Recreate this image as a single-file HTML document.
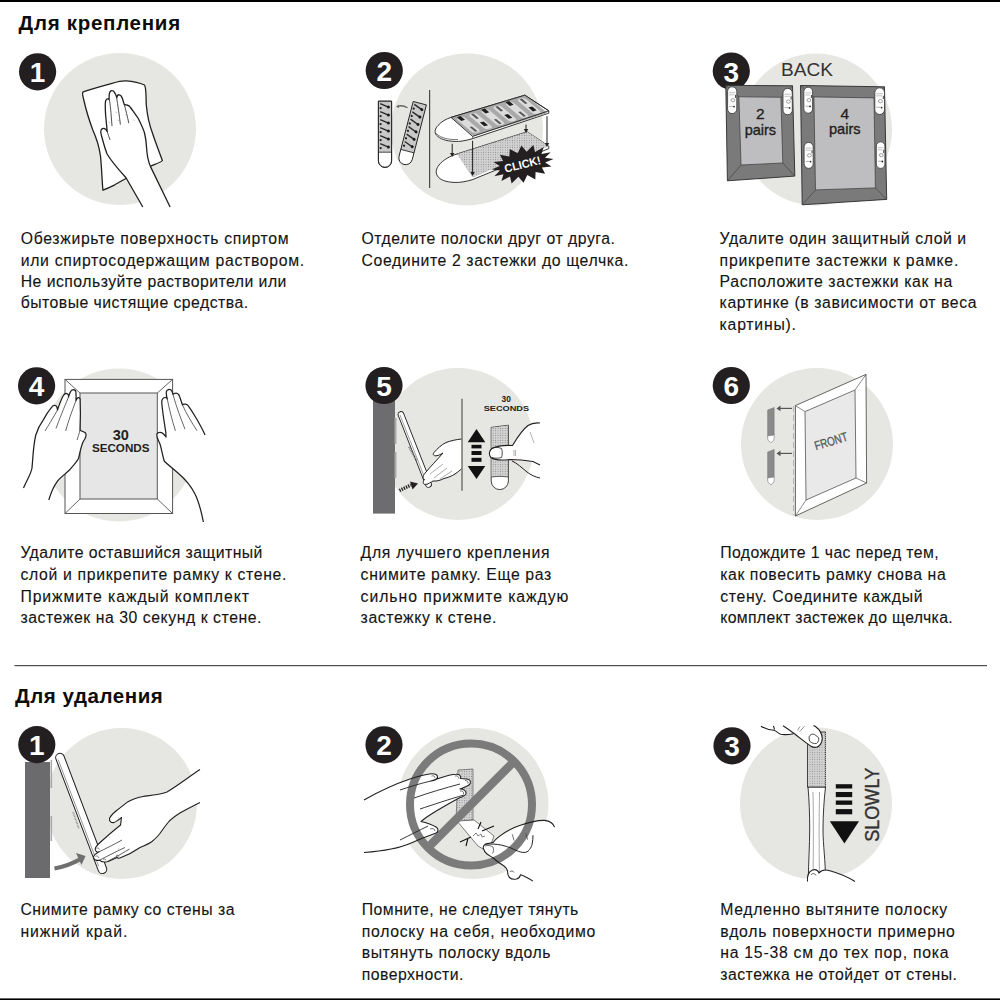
<!DOCTYPE html>
<html><head><meta charset="utf-8"><style>
html,body{margin:0;padding:0;background:#fff;width:1000px;height:1000px;overflow:hidden}
svg{display:block}
.t text{font-family:"Liberation Sans", sans-serif;font-size:15.8px;fill:#141414;stroke:#141414;stroke-width:0.12px}
.h{font-family:"Liberation Sans", sans-serif;font-size:20.5px;font-weight:bold;fill:#0d0d0d}
</style></head><body>
<svg width="1000" height="1000" viewBox="0 0 1000 1000">
<rect x="0" y="0" width="1000" height="1000" fill="#fff"/>
<rect x="0" y="0" width="1000" height="2" fill="#000"/>
<rect x="0" y="998.4" width="1000" height="1.6" fill="#000"/>
<rect x="14.5" y="665" width="972.5" height="1.2" fill="#4d4d4d"/>
<text class="h" x="18.6" y="30.3" textLength="161.5" lengthAdjust="spacing">Для крепления</text>
<text class="h" x="15.0" y="703.3" textLength="147.8" lengthAdjust="spacing">Для удаления</text>
<circle cx="120" cy="129" r="76" fill="#e6e6e3"/>
<circle cx="467" cy="129.5" r="76" fill="#e6e6e3"/>
<circle cx="816" cy="129.5" r="76" fill="#e6e6e3"/>
<circle cx="119" cy="445" r="76.5" fill="#e6e6e3"/>
<circle cx="458" cy="444" r="76" fill="#e6e6e3"/>
<circle cx="817" cy="444" r="76" fill="#e6e6e3"/>
<circle cx="121.5" cy="803.5" r="75.5" fill="#e6e6e3"/>
<circle cx="473" cy="803.5" r="75.5" fill="#e6e6e3"/>
<circle cx="816" cy="803.5" r="76" fill="#e6e6e3"/>
<defs><pattern id="dots" width="2.4" height="2.4" patternUnits="userSpaceOnUse"><rect width="2.4" height="2.4" fill="#d4d4d4"/><circle cx="1.2" cy="1.2" r="0.55" fill="#888"/></pattern></defs>
<path d="M83.2,91.8 C90,89.5 104,85.5 112,83.3 C118,81.6 122,80.6 126,80.9 C131,81.3 140,83 144.5,85 C146.5,88 145.8,97 146.3,105 C147.5,118 150.5,128 152.6,133.5 C155,141 158.5,150 162.4,160.5 C161,162.5 154,164.5 149.8,166.6 L126,178.5 C121,181 118,183 114.8,184.8 C110,187.2 106,189 102.9,190.2 C102,180 101.5,165 100.5,156 C99,146 96,137 92.8,130 C89.5,121 86,110 83.8,100 C83.2,97 81.6,93 83.2,91.8 Z" fill="#fff" stroke="#231f20" stroke-width="1.3" stroke-linejoin="round"/><path d="M142.8,207 L126,177.8 C119,170 111,161 107.1,154 C105,149 103,141 101.5,135.8 C100.5,132.5 100.5,129.5 102.5,128.6 C104.5,127.8 106.3,129.5 107.2,131.5 L105.6,115 C105.2,108 105.1,103 105.6,101 C106.3,98.8 108.2,98.2 109.2,99.5 C109,96 109,93.5 110,91.8 C111,90.3 113.2,90.3 114.3,92.2 C115.5,94 116.3,96 116.8,97.5 C117.2,95.8 118.2,94.6 119.4,94.8 C120.8,95 121.8,96.5 122.4,98.5 C123,100.5 123.6,102.5 124.3,104.5 C124.8,104.8 125.8,104.7 126.8,105 C128.5,105.4 129.8,106.2 130.5,107.5 C133,111 136,115 138,118 C141,124 143.5,129 144.5,133 C145.8,138 146.3,143 146.6,148 C147,155 148,161 150.5,166.6 L170.1,207 Z" fill="#fff" stroke="none"/><path d="M142.8,207 L126,177.8 C119,170 111,161 107.1,154 C105,149 103,141 101.5,135.8 C100.5,132.5 100.5,129.5 102.5,128.6 C104.5,127.8 106.3,129.5 107.2,131.5 L105.6,115 C105.2,108 105.1,103 105.6,101 C106.3,98.8 108.2,98.2 109.2,99.5 C109,96 109,93.5 110,91.8 C111,90.3 113.2,90.3 114.3,92.2 C115.5,94 116.3,96 116.8,97.5 C117.2,95.8 118.2,94.6 119.4,94.8 C120.8,95 121.8,96.5 122.4,98.5 C123,100.5 123.6,102.5 124.3,104.5 C124.8,104.8 125.8,104.7 126.8,105 C128.5,105.4 129.8,106.2 130.5,107.5 C133,111 136,115 138,118 C141,124 143.5,129 144.5,133 C145.8,138 146.3,143 146.6,148 C147,155 148,161 150.5,166.6 L170.1,207" fill="none" stroke="#231f20" stroke-width="1.3" stroke-linejoin="round"/><path d="M109.4,100 C110.2,104 111,112 112,126 M116.6,97.5 C117.8,105 119.3,115 120.4,124.6 M124.3,104.5 C125.8,110 127.5,117 128.8,123.2 M107.2,131.5 C108,134 109,137 110,140" fill="none" stroke="#231f20" stroke-width="0.8"/><path d="M110,116 l1.3,0.6" stroke="#999" stroke-width="0.7"/><path d="M115.5,112 l1.3,0.6" stroke="#999" stroke-width="0.7"/><path d="M125.3,114.8 l1.3,0.6" stroke="#999" stroke-width="0.7"/><path d="M133.2,119.7 l1.3,0.6" stroke="#999" stroke-width="0.7"/><path d="M108.5,122 l1.3,0.6" stroke="#999" stroke-width="0.7"/><path d="M117.5,120 l1.3,0.6" stroke="#999" stroke-width="0.7"/>
<path d="M378.4,101.2 H391.6 V160.8 A6.6,6.6 0 0 1 378.4,160.8 Z" fill="#fff" stroke="#231f20" stroke-width="0.9"/><rect x="378.8" y="101.6" width="12.4" height="50.6" fill="#c9c9c9"/><path d="M378.4,152.2 H391.6" stroke="#231f20" stroke-width="0.8"/><path d="M380.2,103.7 L389.1,107.3" stroke="#2a2a2a" stroke-width="1.4" fill="none"/><circle cx="388.4" cy="106.9" r="1.5" fill="#1a1a1a"/><circle cx="380.6" cy="108.1" r="1.1" fill="#1a1a1a"/><path d="M380.2,111.7 L389.1,115.3" stroke="#2a2a2a" stroke-width="1.4" fill="none"/><circle cx="388.4" cy="114.9" r="1.5" fill="#1a1a1a"/><circle cx="380.6" cy="116.1" r="1.1" fill="#1a1a1a"/><path d="M380.2,119.7 L389.1,123.3" stroke="#2a2a2a" stroke-width="1.4" fill="none"/><circle cx="388.4" cy="122.9" r="1.5" fill="#1a1a1a"/><circle cx="380.6" cy="124.1" r="1.1" fill="#1a1a1a"/><path d="M380.2,127.7 L389.1,131.3" stroke="#2a2a2a" stroke-width="1.4" fill="none"/><circle cx="388.4" cy="130.9" r="1.5" fill="#1a1a1a"/><circle cx="380.6" cy="132.1" r="1.1" fill="#1a1a1a"/><path d="M380.2,135.7 L389.1,139.3" stroke="#2a2a2a" stroke-width="1.4" fill="none"/><circle cx="388.4" cy="138.9" r="1.5" fill="#1a1a1a"/><circle cx="380.6" cy="140.1" r="1.1" fill="#1a1a1a"/><path d="M380.2,143.7 L389.1,147.3" stroke="#2a2a2a" stroke-width="1.4" fill="none"/><circle cx="388.4" cy="146.9" r="1.5" fill="#1a1a1a"/><circle cx="380.6" cy="148.1" r="1.1" fill="#1a1a1a"/><path d="M378.4,101.2 H391.6 V160.8 A6.6,6.6 0 0 1 378.4,160.8 Z" fill="none" stroke="#231f20" stroke-width="0.9"/><g transform="translate(419.8,103.2) rotate(14.5)"><path d="M-6.8,0 H6.8 V56.5 A6.8,6.8 0 0 1 -6.8,56.5 Z" fill="#fff"/><rect x="-6.8" y="0" width="13.6" height="49.5" fill="#c9c9c9"/><path d="M-5.0,2.5 L4.3,6.1" stroke="#2a2a2a" stroke-width="1.4" fill="none"/><circle cx="3.6" cy="5.7" r="1.5" fill="#1a1a1a"/><circle cx="-4.6" cy="6.7" r="1.1" fill="#1a1a1a"/><path d="M-5.0,10.2 L4.3,13.8" stroke="#2a2a2a" stroke-width="1.4" fill="none"/><circle cx="3.6" cy="13.4" r="1.5" fill="#1a1a1a"/><circle cx="-4.6" cy="14.4" r="1.1" fill="#1a1a1a"/><path d="M-5.0,17.8 L4.3,21.4" stroke="#2a2a2a" stroke-width="1.4" fill="none"/><circle cx="3.6" cy="21.0" r="1.5" fill="#1a1a1a"/><circle cx="-4.6" cy="22.1" r="1.1" fill="#1a1a1a"/><path d="M-5.0,25.5 L4.3,29.1" stroke="#2a2a2a" stroke-width="1.4" fill="none"/><circle cx="3.6" cy="28.7" r="1.5" fill="#1a1a1a"/><circle cx="-4.6" cy="29.7" r="1.1" fill="#1a1a1a"/><path d="M-5.0,33.2 L4.3,36.8" stroke="#2a2a2a" stroke-width="1.4" fill="none"/><circle cx="3.6" cy="36.4" r="1.5" fill="#1a1a1a"/><circle cx="-4.6" cy="37.4" r="1.1" fill="#1a1a1a"/><path d="M-5.0,40.8 L4.3,44.4" stroke="#2a2a2a" stroke-width="1.4" fill="none"/><circle cx="3.6" cy="44.0" r="1.5" fill="#1a1a1a"/><circle cx="-4.6" cy="45.1" r="1.1" fill="#1a1a1a"/><path d="M-6.8,49.5 H6.8" stroke="#231f20" stroke-width="0.8"/><path d="M-6.8,0 H6.8 V56.5 A6.8,6.8 0 0 1 -6.8,56.5 Z" fill="none" stroke="#231f20" stroke-width="0.9"/></g><path d="M397.5,106.5 Q402,104.5 407.5,107.8" fill="none" stroke="#666" stroke-width="1.3"/><path d="M396,106.8 l2.8,-2 l0.2,3.2 Z" fill="#666"/><path d="M429.6,90 V188" stroke="#4a4a4a" stroke-width="1.2"/><path d="M457,154 L527.2,131.8 L548.8,146.2 L548.8,148.6 L472,179.8 C466,181.5 460,182.8 454,182.4 C446,182 440,180 437.5,176 C435,172 436.5,168.5 439,165 C443,160 450,156 457,154 Z" fill="#fff" stroke="#231f20" stroke-width="0.9"/><path d="M457,154 L527.2,131.8 L548.8,146.2 L472.5,177.4 Z" fill="url(#dots)"/><path d="M457,154 L527.2,131.8" stroke="#555" stroke-width="0.9" stroke-dasharray="1.2 1.2" fill="none"/><path d="M451,117.4 L524.8,95.2 L548.8,110.8 L548.8,113.2 L472.6,138.6 C466,140.6 460,141.8 454,141.4 C446,141 440,139 436.5,135.2 C434,132 435.2,128.5 438,125.5 C441.5,121.5 446,119 451,117.4 Z" fill="#fff" stroke="#231f20" stroke-width="0.9"/><g transform="matrix(74.5,-23,22.3,18.8,451,117.4)"><rect x="0" y="0" width="1" height="1" fill="#a9a9a9"/><rect x="0.035" y="0.1" width="0.1" height="0.8" rx="0.04" ry="0.12" fill="#dcdcdc"/><rect x="0.060" y="0.06" width="0.05" height="0.2" fill="#1e1e1e"/><rect x="0.070" y="0.6" width="0.03" height="0.25" fill="#555"/><rect x="0.198" y="0.1" width="0.1" height="0.8" rx="0.04" ry="0.12" fill="#dcdcdc"/><rect x="0.223" y="0.55" width="0.05" height="0.2" fill="#1e1e1e"/><rect x="0.233" y="0.12" width="0.03" height="0.25" fill="#555"/><rect x="0.361" y="0.1" width="0.1" height="0.8" rx="0.04" ry="0.12" fill="#dcdcdc"/><rect x="0.386" y="0.06" width="0.05" height="0.2" fill="#1e1e1e"/><rect x="0.396" y="0.6" width="0.03" height="0.25" fill="#555"/><rect x="0.524" y="0.1" width="0.1" height="0.8" rx="0.04" ry="0.12" fill="#dcdcdc"/><rect x="0.549" y="0.55" width="0.05" height="0.2" fill="#1e1e1e"/><rect x="0.559" y="0.12" width="0.03" height="0.25" fill="#555"/><rect x="0.687" y="0.1" width="0.1" height="0.8" rx="0.04" ry="0.12" fill="#dcdcdc"/><rect x="0.712" y="0.06" width="0.05" height="0.2" fill="#1e1e1e"/><rect x="0.722" y="0.6" width="0.03" height="0.25" fill="#555"/><rect x="0.850" y="0.1" width="0.1" height="0.8" rx="0.04" ry="0.12" fill="#dcdcdc"/><rect x="0.875" y="0.55" width="0.05" height="0.2" fill="#1e1e1e"/><rect x="0.885" y="0.12" width="0.03" height="0.25" fill="#555"/></g><path d="M451,117.4 L524.8,95.2 L548.8,110.8 L472.6,136.4 Z" fill="none" stroke="#231f20" stroke-width="0.9"/><path d="M472.6,136.4 L472.6,138.6 M436.3,133.5 C441,138.5 450,140 458,139.5" fill="none" stroke="#231f20" stroke-width="0.6"/><path d="M452.2,143.8 V154" stroke="#231f20" stroke-width="1"/><path d="M450.0,153 L454.4,153 L452.2,157 Z" fill="#231f20"/><path d="M472.6,140.8 V173" stroke="#231f20" stroke-width="1"/><path d="M470.40000000000003,172 L474.8,172 L472.6,176 Z" fill="#231f20"/><path d="M526,124.6 V130" stroke="#231f20" stroke-width="1"/><path d="M523.8,129 L528.2,129 L526,133 Z" fill="#231f20"/><path d="M547,116.2 V144" stroke="#231f20" stroke-width="1"/><path d="M544.8,143 L549.2,143 L547,147 Z" fill="#231f20"/><polygon points="553.5,158.9 545.2,162.5 551.5,166.5 541.9,167.4 545.1,173.7 535.6,171.9 535.3,179.4 527.3,175.1 523.6,182.8 518.4,176.7 511.6,183.4 510.0,176.4 501.4,181.1 503.5,174.3 494.3,176.2 500.0,170.6 491.5,169.5 499.8,165.9 493.5,161.9 503.1,161.0 499.9,154.7 509.4,156.5 509.7,149.0 517.7,153.3 521.4,145.6 526.6,151.7 533.4,145.0 535.0,152.0 543.6,147.3 541.5,154.1 550.7,152.2 545.0,157.8" fill="#231f20"/><text x="522.5" y="168.39999999999998" text-anchor="middle" transform="rotate(-14 522.5 164.2)" font-family="Liberation Sans, sans-serif" font-weight="bold" font-size="11.5" fill="#fff" textLength="37" lengthAdjust="spacingAndGlyphs">CLICK!</text>
<rect x="65" y="379.4" width="107.6" height="134.1" fill="#fff" stroke="#555" stroke-width="1"/><rect x="80" y="393" width="77.3" height="106" fill="#e6e6e6" stroke="#555" stroke-width="1"/><path d="M65,379.4 L80,393 M172.6,379.4 L157.3,393 M172.6,513.5 L157.3,499 M65,513.5 L80,499" stroke="#555" stroke-width="0.9"/><text x="120.7" y="439.6" text-anchor="middle" font-family="Liberation Sans, sans-serif" font-weight="bold" font-size="14.5" fill="#231f20">30</text><text x="120.7" y="452.4" text-anchor="middle" font-family="Liberation Sans, sans-serif" font-weight="bold" font-size="11" fill="#231f20" textLength="57.6" lengthAdjust="spacingAndGlyphs">SECONDS</text><path d="M23.5,488 C27,480 31,474 32,468 C33,458 33,447 35.8,435 C38,428 41,423 43.6,419.4 C46,415 49,410.5 51.4,407.7 C52,406.5 53,405.6 54.2,405.4 C55.5,405.3 56.5,406 56.9,407 C57.2,408 57.4,409 57.5,410 C59.5,404 61.5,399 63.1,396 C63.8,394.6 65,393.5 66.2,393.4 C67.5,393.4 68.3,394.3 68.5,395.5 C68.6,396 68.6,396.5 68.5,397 C69,395 69.6,393.5 70.3,392.1 C71,390.6 72,389.7 73.3,389.6 C74.8,389.6 75.8,390.8 75.9,392.3 C76.1,395 76.1,398 76,400.5 C76.5,399.3 77.2,398 78.2,397.6 C79.3,397.4 80,398.3 80.1,399.5 C80.5,408 80.5,420 80,430 C81.5,431.5 84,431.5 85.5,433 C87,435 85,439 83,442 C80.5,448 79.5,455 78.5,458.5 C76,463 72,467 69.5,470 C64,475 60,478 57.5,481 C53,487 50.5,494 48.8,500" fill="#fff" stroke="none"/><path d="M23.5,488 C27,480 31,474 32,468 C33,458 33,447 35.8,435 C38,428 41,423 43.6,419.4 C46,415 49,410.5 51.4,407.7 C52,406.5 53,405.6 54.2,405.4 C55.5,405.3 56.5,406 56.9,407 C57.2,408 57.4,409 57.5,410 C59.5,404 61.5,399 63.1,396 C63.8,394.6 65,393.5 66.2,393.4 C67.5,393.4 68.3,394.3 68.5,395.5 C68.6,396 68.6,396.5 68.5,397 C69,395 69.6,393.5 70.3,392.1 C71,390.6 72,389.7 73.3,389.6 C74.8,389.6 75.8,390.8 75.9,392.3 C76.1,395 76.1,398 76,400.5 C76.5,399.3 77.2,398 78.2,397.6 C79.3,397.4 80,398.3 80.1,399.5 C80.5,408 80.5,420 80,430 C81.5,431.5 84,431.5 85.5,433 C87,435 85,439 83,442 C80.5,448 79.5,455 78.5,458.5 C76,463 72,467 69.5,470 C64,475 60,478 57.5,481 C53,487 50.5,494 48.8,500" fill="none" stroke="#231f20" stroke-width="1.25" stroke-linejoin="round"/><path d="M57.5,410 C53,418 48,426 45,431 M68.5,397 C64,408 59,420 56,428.5 M76,400.5 C72,411 68,422 65.7,431 M80,430 C79,434 78,437 77,440" fill="none" stroke="#333" stroke-width="0.75"/><path d="M203.4,522 C201,510 198,500 195,494 C191,486 185,479 178,473 C171,467 166,463 164.2,461 C162.5,455 161.5,449 160,444 C158.5,440 156,437 157,434 C158,431.5 161.5,432 163,433.5 C164.5,435 165.5,436 166,437 L165.8,432.4 C164.5,424 162.5,412 161.8,403 C161.5,400 162.5,398 165,397.5 C166.3,397.3 167,398 167.3,399 C166.5,396 166,393 166.5,391.2 C167.2,389.5 169.5,389 171,390 C172.2,390.8 172.6,392.5 173,394.5 C173.5,393.5 174.8,393 176.2,393 C177.8,393.2 179,394.5 179.6,396.5 C180.5,399 181.5,402 182.4,404.8 C183,404.2 184.2,404 185.5,404.2 C187,404.5 188.3,405.5 189,406.8 C192,411 195,416 197,419.5 C200,425 203,430 205,435" fill="#fff" stroke="none"/><path d="M203.4,522 C201,510 198,500 195,494 C191,486 185,479 178,473 C171,467 166,463 164.2,461 C162.5,455 161.5,449 160,444 C158.5,440 156,437 157,434 C158,431.5 161.5,432 163,433.5 C164.5,435 165.5,436 166,437 L165.8,432.4 C164.5,424 162.5,412 161.8,403 C161.5,400 162.5,398 165,397.5 C166.3,397.3 167,398 167.3,399 C166.5,396 166,393 166.5,391.2 C167.2,389.5 169.5,389 171,390 C172.2,390.8 172.6,392.5 173,394.5 C173.5,393.5 174.8,393 176.2,393 C177.8,393.2 179,394.5 179.6,396.5 C180.5,399 181.5,402 182.4,404.8 C183,404.2 184.2,404 185.5,404.2 C187,404.5 188.3,405.5 189,406.8 C192,411 195,416 197,419.5 C200,425 203,430 205,435" fill="none" stroke="#231f20" stroke-width="1.25" stroke-linejoin="round"/><path d="M167.3,399 C169,408 172,420 175.4,430.8 M173,394.5 C176,406 181,419 185,429.2 M182.4,404.8 C186,413 192,423 197,430.8" fill="none" stroke="#333" stroke-width="0.75"/>
<rect x="373" y="400" width="22" height="113.6" fill="#6d6d6f"/><rect x="394.5" y="418" width="2" height="26" fill="#aaa"/><rect x="394.5" y="452" width="2" height="26" fill="#aaa"/><g transform="translate(399.8,411.8) rotate(-21.5)"><rect x="-2.8" y="0" width="5.8" height="81" rx="2.8" fill="#fff" stroke="#231f20" stroke-width="0.9"/><path d="M-1,3 V78" stroke="#555" stroke-width="0.5"/></g><path d="M409,447 L417,461" stroke="#777" stroke-width="2.2" stroke-dasharray="0.8 0.8"/><path d="M461.5,439 C456,439.5 450,441 446,442.5 C441,445 437,449 434,452.5 C432.5,454.5 433.5,456 436,455.8 C439,455.5 441,454 443,453 C437,460 430,467 426,472 C423,475 422,478.5 424.5,479.5 C423,481 422.5,484 425,484.5 C428,484.5 431,482 433,481 C437,481.5 441,480 444,478.5 C448,477.5 452,476 455,474 C458,472 460,470 461.5,469" fill="#fff" stroke="#231f20" stroke-width="1"/><path d="M443,464 L430,474 M447,468 L434,478 M452,471 L440,479" stroke="#555" stroke-width="0.5"/><path d="M399.5,490.5 L411,485" stroke="#231f20" stroke-width="3.4" stroke-dasharray="1.3 1.1"/><path d="M410,481.5 L418,483.4 L412.5,489.5 Z" fill="#231f20"/><path d="M462,398.8 V490.7" stroke="#4a4a4a" stroke-width="1.1"/><path d="M476.5,429 L485.3,442.3 L467.7,442.3 Z M476.5,479 L485.3,466 L467.7,466 Z" fill="#111"/><rect x="471.5" y="444.8" width="10" height="3.6" fill="#111"/><rect x="471.5" y="451" width="10" height="4" fill="#111"/><rect x="471.5" y="457.8" width="10" height="4" fill="#111"/><path d="M491.2,427.4 L508.4,425.2 V481 A8.6,8.6 0 0 1 491.2,481 Z" fill="#fff" stroke="#333" stroke-width="0.9"/><path d="M491.6,427.8 L508,425.6 V477 H491.6 Z" fill="url(#dots)"/><path d="M491.2,477 Q500,475.5 508.4,477" stroke="#333" stroke-width="0.7" fill="none"/><path d="M540,423 C535,422.5 531,423.5 528,425.5 C522,430 517,438 512.5,445.5 C505,445 497,446 492,448.5 C489,450.5 488.5,455 491,457.5 C495,460.5 502,460.5 510,459.5 C518,459.5 527,460.5 533,461.5 C536,463 538,464 540,465 L540,423 Z" fill="#fff" stroke="none"/><path d="M540,423 C535,422.5 531,423.5 528,425.5 C522,430 517,438 512.5,445.5 C505,445 497,446 492,448.5 C489,450.5 488.5,455 491,457.5 C495,460.5 502,460.5 510,459.5 C518,459.5 527,460.5 533,461.5 C536,463 538,464 540,465" fill="none" stroke="#231f20" stroke-width="1.1"/><path d="M491.5,448.5 C493,447 499,447 501.5,448.5 C502.5,451 502.5,455 501.5,457.5 C498,458.5 494,458.3 492,457.5" fill="none" stroke="#231f20" stroke-width="0.8"/><path d="M512,461 C517,463 522,468 527,472 C531,475 535,477 540,478" fill="none" stroke="#231f20" stroke-width="1"/><path d="M514,450 V456 M515.5,450 V456 M530,432 L534,443" stroke="#666" stroke-width="0.5"/><text x="506.2" y="401.8" text-anchor="middle" font-family="Liberation Sans, sans-serif" font-weight="bold" font-size="8.4" fill="#231f20">30</text><text x="506.4" y="411" text-anchor="middle" font-family="Liberation Sans, sans-serif" font-weight="bold" font-size="8" fill="#231f20" textLength="45.4" lengthAdjust="spacingAndGlyphs">SECONDS</text>
<path d="M767.6,410 L774.2,407.4 V435 L767.6,436 Z" fill="#8a8a8a" stroke="#666" stroke-width="0.4"/><path d="M767.6,436 L774.2,435 V438 C774,441 772,442.5 770.9,442.5 C769,442 767.6,440 767.6,438 Z" fill="#fff" stroke="#777" stroke-width="0.6"/><path d="M767.6,452 L774.2,449.4 V477 L767.6,478 Z" fill="#8a8a8a" stroke="#666" stroke-width="0.4"/><path d="M767.6,478 L774.2,477 V480 C774,483 772,484.5 770.9,484.5 C769,484 767.6,482 767.6,480 Z" fill="#fff" stroke="#777" stroke-width="0.6"/><path d="M792,408.4 H779" stroke="#555" stroke-width="1.2"/><path d="M776.5,408.4 L780.5,405.59999999999997 L780.5,411.2 Z" fill="#555"/><path d="M792,453.4 H779" stroke="#555" stroke-width="1.2"/><path d="M776.5,453.4 L780.5,450.59999999999997 L780.5,456.2 Z" fill="#555"/><polygon points="795.4,405.6 866,374.4 866.6,483 795.4,516" fill="#fff" stroke="#4a4a4a" stroke-width="0.85"/><polygon points="805,411.6 855,390 856,478 806,500" fill="#e9e9e9" stroke="#4a4a4a" stroke-width="0.75"/><path d="M795.4,405.6 L805,411.6" stroke="#4a4a4a" stroke-width="0.65"/><path d="M866,374.4 L855,390" stroke="#4a4a4a" stroke-width="0.65"/><path d="M866.6,483 L856,478" stroke="#4a4a4a" stroke-width="0.65"/><path d="M795.4,516 L806,500" stroke="#4a4a4a" stroke-width="0.65"/><path d="M793.5,406 V515" stroke="#aaa" stroke-width="0.8" stroke-dasharray="6 3"/><text x="830.9" y="445.5" text-anchor="middle" transform="rotate(-17 830.9 441)" font-family="Liberation Sans, sans-serif" font-size="12.5" fill="#585858" stroke="#585858" stroke-width="0.3" textLength="34" lengthAdjust="spacingAndGlyphs">FRONT</text>
<rect x="25" y="762" width="25" height="116" fill="#6b6b6d"/><rect x="50.5" y="760" width="1.6" height="28" fill="#aaa"/><rect x="50.5" y="816" width="1.6" height="25" fill="#aaa"/><g transform="translate(59,755) rotate(-20.8)"><rect x="-4.3" y="-1.5" width="8.6" height="128" rx="4.2" fill="#fff" stroke="#231f20" stroke-width="1"/><path d="M-2.4,4 V118" stroke="#444" stroke-width="0.5"/></g><path d="M73,812 L79,829" stroke="#888" stroke-width="1.6" stroke-dasharray="0.8 0.7"/><path d="M54.5,868.5 C62,867 72,864 79.5,859.5" fill="none" stroke="#6f6f6f" stroke-width="4.2"/><path d="M76,853 L85.5,856 L81.5,865 Z" fill="#6f6f6f"/><path d="M200,769.5 C190,776 180,784 167,792 C158,795 150,795.5 143,796.5 C136,798 131,800 128,801.7 C124,805 120,808 116,811 C113,813.5 110.5,816 109.5,818.5 C109,821 111,822.8 113.5,822.6 C116,822 119,819.5 121.5,817.5 C121,820 121,823 120.5,825 C113,831 105,838 99.5,843 C97,845.5 95,847 95.2,849.5 C95.5,851.5 97.5,852.5 99,851.8 C97,853 93.2,855 93.5,857.5 C94,860 96.5,860.8 99.5,860.2 C101,861.8 104,862.2 107,861.7 C110,861 114,859 117,857.5 C118,858.3 119.5,858.3 120.5,857.8 C128,855 135,851 140,847.5 C146,845 150,843 152,841.5 C156,838 158,836 159.5,834 C163,829 166,825 168.5,822 C172,818 176,815.5 180,813 C187,809 194,805.5 200,802.5 Z" fill="#fff" stroke="none"/><path d="M200,769.5 C190,776 180,784 167,792 C158,795 150,795.5 143,796.5 C136,798 131,800 128,801.7 C124,805 120,808 116,811 C113,813.5 110.5,816 109.5,818.5 C109,821 111,822.8 113.5,822.6 C116,822 119,819.5 121.5,817.5 C121,820 121,823 120.5,825 C113,831 105,838 99.5,843 C97,845.5 95,847 95.2,849.5 C95.5,851.5 97.5,852.5 99,851.8 C97,853 93.2,855 93.5,857.5 C94,860 96.5,860.8 99.5,860.2 C101,861.8 104,862.2 107,861.7 C110,861 114,859 117,857.5 C118,858.3 119.5,858.3 120.5,857.8 C128,855 135,851 140,847.5 C146,845 150,843 152,841.5 C156,838 158,836 159.5,834 C163,829 166,825 168.5,822 C172,818 176,815.5 180,813 C187,809 194,805.5 200,802.5" fill="none" stroke="#231f20" stroke-width="1.1" stroke-linejoin="round"/><path d="M99,851.8 C105,849 113,845 122,840 M99.5,860.2 C106,857 115,852 125,847.5 M107,861.7 C112,859 118,856 129.5,849" fill="none" stroke="#333" stroke-width="0.8"/><path d="M96.5,848.5 C97.5,847.5 99,848 99.3,849.5 M95.5,856.5 C96.5,855.5 98.5,856 98.8,858 M103,859.5 C104,858.5 106,859 106,860.5 M116,855.5 C117,854.8 118.5,855.3 118.8,856.6" fill="none" stroke="#333" stroke-width="0.6"/><path d="M109,838 l1,-0.6" stroke="#999" stroke-width="0.6"/><path d="M111,846 l1,-0.6" stroke="#999" stroke-width="0.6"/><path d="M118,849 l1,-0.6" stroke="#999" stroke-width="0.6"/><path d="M124,851.5 l1,-0.6" stroke="#999" stroke-width="0.6"/><path d="M118,818 l1,-0.6" stroke="#999" stroke-width="0.6"/>
<path d="M458,770 L473,769 L473,820 L456,822 Z" fill="url(#dots)" stroke="#444" stroke-width="0.6"/><path d="M457,821 L474,820 L494,836 L488,852 L478,846 Z" fill="#fff" stroke="#444" stroke-width="0.7"/><path d="M473,836 l3,-3 l2,3 l3,-2 l1,3 l3,-1" fill="none" stroke="#333" stroke-width="0.6"/><path d="M364,800 C378,792 395,784 410,779 C418,776.5 426,774.5 431,773.8 C435,773.3 438,775 437.5,777.5 C437,779.5 434,780.5 431,781 L440,778 C446,776 452,774.5 456,774.3 C459.5,774 461.5,776 460.5,778.5 C464,778.5 468.5,778.5 470,780.5 C471.5,783 469.5,785.5 466,786.5 C464,787.5 461,788.5 460,789 C464,789 466.5,791 466,793.5 C465.5,796 462,797 459,798 C450,803 441,808 433,813 C428,816 424,819 421,821.5 C427,823 433,825 436,827 C439,829 438.5,832 435.5,833.3 C428,836 418,840 410,843.5 C400,848 384,851 364,852.5 Z" fill="#fff" stroke="none"/><path d="M554.6,827.1 C553,823 549,821 544.7,820.4 C538,820 530,822 520.4,825.3 C512,828 505,832 499.7,836.1 C496,839 494,841 493.4,842.4 C490,843 486.5,843.5 485.3,844.2 C483.5,845.5 483,847.5 483.5,848.7 C484,851 485,852.5 487,854 C489,855.5 491,856.5 492.5,857.5 C496,860.5 500,863.5 504,866 C506,867.5 507,869 507.5,871 C507.5,874 508,876 509.5,877.5 C511,879 514,879.5 516.5,879 C518.5,878.5 520,877 520.4,874.8 C523,875.5 528,878 533,881.1 L560,881.5 L560,827 Z" fill="#fff" stroke="none"/><circle cx="471" cy="804.5" r="61" fill="none" stroke="#7b7b7b" stroke-width="8"/><path d="M514.5,761 L427.5,848" stroke="#7b7b7b" stroke-width="8.5"/><path d="M364,800 C378,792 395,784 410,779 C418,776.5 426,774.5 431,773.8 C435,773.3 438,775 437.5,777.5 C437,779.5 434,780.5 431,781 L440,778 C446,776 452,774.5 456,774.3 C459.5,774 461.5,776 460.5,778.5 C464,778.5 468.5,778.5 470,780.5 C471.5,783 469.5,785.5 466,786.5 C464,787.5 461,788.5 460,789 C464,789 466.5,791 466,793.5 C465.5,796 462,797 459,798 C450,803 441,808 433,813 C428,816 424,819 421,821.5 C427,823 433,825 436,827 C439,829 438.5,832 435.5,833.3 C428,836 418,840 410,843.5 C400,848 384,851 364,852.5" fill="none" stroke="#231f20" stroke-width="1.1" stroke-linejoin="round"/><path d="M400,790 C412,786 422,783 431,781 M414,798 C428,793 445,788 460,784 M420,809 C432,805 450,799 464,795 M400,840 C410,835 420,830 428,826" fill="none" stroke="#222" stroke-width="0.9"/><path d="M431.5,776 C433,775.5 435,776 435,778 M455,776 C457,775.5 459,776.5 459,778.5 M465,780.5 C467,780.5 468.5,781.5 468,783.5 M460,791 C462,790.5 464,791.5 463.5,794 M430,829 C432,828 435,828.5 435,831" fill="none" stroke="#333" stroke-width="0.7"/><path d="M460,842 L471,837 M482,831 L494,826 M468,838 L466,846 M478,829 L481,822" stroke="#111" stroke-width="1.1"/><path d="M554.6,827.1 C553,823 549,821 544.7,820.4 C538,820 530,822 520.4,825.3 C512,828 505,832 499.7,836.1 C496,839 494,841 493.4,842.4 C490,843 486.5,843.5 485.3,844.2 C483.5,845.5 483,847.5 483.5,848.7 C484,851 485,852.5 487,854 C489,855.5 491,856.5 492.5,857.5 C496,860.5 500,863.5 504,866 C506,867.5 507,869 507.5,871 C507.5,874 508,876 509.5,877.5 C511,879 514,879.5 516.5,879 C518.5,878.5 520,877 520.4,874.8 C523,875.5 528,878 533,881.1" fill="none" stroke="#231f20" stroke-width="1.1" stroke-linejoin="round"/><path d="M485.3,844.2 C490,843.8 496,844 501.5,845.1 C505,846 508,847 510.5,847.8 C513,849 516,850.5 518.6,851.4 C521,852.3 523.5,852.6 525.8,852.3 C527.5,851.8 529,850.5 529.4,849.6 C531,847.5 531.8,846 532.1,844.2 C532.8,841 533,838 533,835.2" fill="none" stroke="#222" stroke-width="1"/><path d="M485,846 C487,845 491,845.5 493,847 C494,849.5 493.5,852 492.5,853.5 M510,872 C511,870.5 513,870.5 514,872.5 M512.3,834.3 L514.1,840.6 M525.8,833.4 L527.6,839.7" fill="none" stroke="#333" stroke-width="0.7"/>
<path d="M808,787 L825.5,787 C824,800 823,815 823,830 C823,845 825.5,860 825.5,880.5 L808.3,880.5 C808.5,862 809.7,845 809.7,830 C809.7,815 809.2,800 808,787 Z" fill="#fff" stroke="#231f20" stroke-width="0.9"/><path d="M813,792 C813.5,820 813.5,850 813,878 M819.5,792 C819,820 819,850 819.5,878" fill="none" stroke="#555" stroke-width="0.5"/><rect x="807.4" y="732" width="18" height="55" fill="url(#dots)" stroke="#231f20" stroke-width="0.8"/><path d="M825.4,733 V787" stroke="#fff" stroke-width="0.6" stroke-dasharray="1 1"/><path d="M761,725.5 L761,726.2 C764,728 768,729.6 774.2,730.2 C776,731 778,733 780.6,734.2 C784,735 788,734.8 793.4,733.8 C796,735.5 800,738 804,741 C806.5,743 808.5,745 811,746.2 C813,747.3 815,747.5 816.5,747.2 C819.5,746.5 822,743 822.2,739 C822.4,735 820,730 815.5,726.5 L813.5,725.5 Z" fill="#fff" stroke="none"/><path d="M761,726.2 C764,728 768,729.6 774.2,730.2 C776,731 778,733 780.6,734.2 C784,735 788,734.8 793.4,733.8 M773.4,726 C774,727.5 774.3,728.5 774.5,729.5 M783,725.8 C788,729 792,732 796,735 C800,738 806,743 811,746.2 C813,747.3 815,747.5 816.5,747.2 C819.5,746.5 822,743 822.2,739 C822.4,735 820,730 815.5,726.5 L813.5,725.5" fill="none" stroke="#231f20" stroke-width="1.1"/><path d="M809,737 C810,734.5 812.5,733.5 814.5,734.5 L818.5,737.5 C819.3,739.5 818.5,742 816.5,743.5 C814,744 811.5,743 809.5,741 Z" fill="none" stroke="#231f20" stroke-width="0.8"/><path d="M797.5,730.3 L800,726.5 M799.8,731.5 L804.5,726.2" stroke="#444" stroke-width="0.6"/><path d="M807.5,881.5 C807,876 809,871.5 812.5,870 C815.5,869 818,870.5 819,873 C821,870.5 825,869.5 829,870.5 C838,873 848,877 855,881.5 Z" fill="#fff" stroke="none"/><path d="M807.5,881.5 C807,876 809,871.5 812.5,870 C815.5,869 818,870.5 819,873 C821,870.5 825,869.5 829,870.5 C838,873 848,877 855,881.5" fill="none" stroke="#231f20" stroke-width="1.1"/><path d="M811,875 C812,873 815,873 816,875.5" fill="none" stroke="#231f20" stroke-width="0.7"/><rect x="835.8" y="784.2" width="16.4" height="4.3" fill="#111"/><rect x="835.8" y="792" width="16.4" height="5.1" fill="#111"/><rect x="835.8" y="800.5" width="16.4" height="4.3" fill="#111"/><rect x="835.8" y="809.1" width="16.4" height="5.2" fill="#111"/><path d="M829.8,821.2 L859,821.2 L844.4,843.5 Z" fill="#111"/><text x="0" y="0" transform="translate(878.8,804.8) rotate(-90)" text-anchor="middle" font-family="Liberation Sans, sans-serif" font-size="19.5" fill="#333" stroke="#333" stroke-width="0.35" textLength="74" lengthAdjust="spacingAndGlyphs">SLOWLY</text>
<circle cx="37.6" cy="71.8" r="18.6" fill="#231f20"/>
<text x="37.6" y="82.3" text-anchor="middle" font-family="Liberation Sans, sans-serif" font-weight="bold" font-size="28" fill="#fff">1</text>
<circle cx="384.25" cy="70.5" r="18.6" fill="#231f20"/>
<text x="384.25" y="81.0" text-anchor="middle" font-family="Liberation Sans, sans-serif" font-weight="bold" font-size="28" fill="#fff">2</text>
<circle cx="731.3" cy="71" r="18.6" fill="#231f20"/>
<text x="731.3" y="81.5" text-anchor="middle" font-family="Liberation Sans, sans-serif" font-weight="bold" font-size="28" fill="#fff">3</text>
<circle cx="36.6" cy="385.8" r="18.6" fill="#231f20"/>
<text x="36.6" y="396.3" text-anchor="middle" font-family="Liberation Sans, sans-serif" font-weight="bold" font-size="28" fill="#fff">4</text>
<circle cx="384" cy="385.5" r="18.6" fill="#231f20"/>
<text x="384" y="396.0" text-anchor="middle" font-family="Liberation Sans, sans-serif" font-weight="bold" font-size="28" fill="#fff">5</text>
<circle cx="731.3" cy="385.5" r="18.6" fill="#231f20"/>
<text x="731.3" y="396.0" text-anchor="middle" font-family="Liberation Sans, sans-serif" font-weight="bold" font-size="28" fill="#fff">6</text>
<circle cx="36.8" cy="744.6" r="18.6" fill="#231f20"/>
<text x="36.8" y="755.1" text-anchor="middle" font-family="Liberation Sans, sans-serif" font-weight="bold" font-size="28" fill="#fff">1</text>
<circle cx="384" cy="744.8" r="18.6" fill="#231f20"/>
<text x="384" y="755.3" text-anchor="middle" font-family="Liberation Sans, sans-serif" font-weight="bold" font-size="28" fill="#fff">2</text>
<circle cx="732" cy="745.8" r="18.6" fill="#231f20"/>
<text x="732" y="756.3" text-anchor="middle" font-family="Liberation Sans, sans-serif" font-weight="bold" font-size="28" fill="#fff">3</text>
<text x="807" y="76.4" text-anchor="middle" font-family="Liberation Sans, sans-serif" font-size="18.5" fill="#333" textLength="52" lengthAdjust="spacingAndGlyphs">BACK</text><polygon points="725.8,85.3 792.5,85.8 794.8,176.1 727.4,180.8" fill="#7a7a7a" stroke="#2a2a2a" stroke-width="0.9" stroke-linejoin="round"/><polygon points="738.9,96.8 780.9,97.3 782.8,163 741,165" fill="#bebec0" stroke="#3a3a3a" stroke-width="0.7"/><path d="M725.8,85.3 L738.9,96.8" stroke="#3a3a3a" stroke-width="0.6"/><path d="M792.5,85.8 L780.9,97.3" stroke="#3a3a3a" stroke-width="0.6"/><path d="M794.8,176.1 L782.8,163" stroke="#3a3a3a" stroke-width="0.6"/><path d="M727.4,180.8 L741,165" stroke="#3a3a3a" stroke-width="0.6"/><rect x="727.6" y="86.8" width="9.2" height="26.8" rx="4.6" ry="4.6" fill="#fdfdfd" stroke="#333" stroke-width="0.8"/><path d="M729.1,92.7 h6.2 M729.1,94.8 h5.2" stroke="#bbb" stroke-width="0.9"/><ellipse cx="732.9" cy="100.2" rx="2.0" ry="1.6" fill="none" stroke="#888" stroke-width="0.8"/><path d="M729.1,106.4 h3.7" stroke="#aaa" stroke-width="0.9"/><circle cx="734.0" cy="106.6" r="0.9" fill="#222"/><path d="M735.6,94.8 v3.2" stroke="#444" stroke-width="1"/><rect x="783" y="88.4" width="9.3" height="26.3" rx="4.6" ry="4.6" fill="#fdfdfd" stroke="#333" stroke-width="0.8"/><path d="M784.5,94.2 h6.3 M784.5,96.3 h5.3" stroke="#bbb" stroke-width="0.9"/><ellipse cx="788.4" cy="101.6" rx="2.0" ry="1.6" fill="none" stroke="#888" stroke-width="0.8"/><path d="M784.5,107.6 h3.7" stroke="#aaa" stroke-width="0.9"/><circle cx="789.5" cy="107.9" r="0.9" fill="#222"/><path d="M791.1,96.3 v3.2" stroke="#444" stroke-width="1"/><text x="760.4" y="118.9" text-anchor="middle" font-family="Liberation Sans, sans-serif" font-size="15.5" fill="#231f20" stroke="#231f20" stroke-width="0.3">2</text><text x="760.4" y="134.6" text-anchor="middle" font-family="Liberation Sans, sans-serif" font-size="14.5" fill="#231f20" stroke="#231f20" stroke-width="0.35" textLength="31.5" lengthAdjust="spacingAndGlyphs">pairs</text><polygon points="800.5,85.5 884.5,86.8 886.7,199.4 802.2,204.8" fill="#7a7a7a" stroke="#2a2a2a" stroke-width="0.9" stroke-linejoin="round"/><polygon points="813.9,96.9 874,97.9 875.4,187.9 815.5,189.9" fill="#bebec0" stroke="#3a3a3a" stroke-width="0.7"/><path d="M800.5,85.5 L813.9,96.9" stroke="#3a3a3a" stroke-width="0.6"/><path d="M884.5,86.8 L874,97.9" stroke="#3a3a3a" stroke-width="0.6"/><path d="M886.7,199.4 L875.4,187.9" stroke="#3a3a3a" stroke-width="0.6"/><path d="M802.2,204.8 L815.5,189.9" stroke="#3a3a3a" stroke-width="0.6"/><rect x="803.8" y="87.2" width="8.8" height="26.0" rx="4.4" ry="4.4" fill="#fdfdfd" stroke="#333" stroke-width="0.8"/><path d="M805.3,92.9 h5.8 M805.3,95.0 h4.8" stroke="#bbb" stroke-width="0.9"/><ellipse cx="808.9" cy="100.2" rx="1.9" ry="1.6" fill="none" stroke="#888" stroke-width="0.8"/><path d="M805.3,106.2 h3.5" stroke="#aaa" stroke-width="0.9"/><circle cx="810.0" cy="106.4" r="0.9" fill="#222"/><path d="M811.4,95.0 v3.1" stroke="#444" stroke-width="1"/><rect x="874.8" y="87.8" width="9.7" height="26.7" rx="4.9" ry="4.9" fill="#fdfdfd" stroke="#333" stroke-width="0.8"/><path d="M876.3,93.7 h6.7 M876.3,95.8 h5.7" stroke="#bbb" stroke-width="0.9"/><ellipse cx="880.4" cy="101.2" rx="2.1" ry="1.6" fill="none" stroke="#888" stroke-width="0.8"/><path d="M876.3,107.3 h3.9" stroke="#aaa" stroke-width="0.9"/><circle cx="881.6" cy="107.6" r="0.9" fill="#222"/><path d="M883.3,95.8 v3.2" stroke="#444" stroke-width="1"/><rect x="804.1" y="142.4" width="9.1" height="26.0" rx="4.6" ry="4.6" fill="#fdfdfd" stroke="#333" stroke-width="0.8"/><path d="M805.6,148.1 h6.1 M805.6,150.2 h5.1" stroke="#bbb" stroke-width="0.9"/><ellipse cx="809.4" cy="155.4" rx="2.0" ry="1.6" fill="none" stroke="#888" stroke-width="0.8"/><path d="M805.6,161.4 h3.6" stroke="#aaa" stroke-width="0.9"/><circle cx="810.5" cy="161.6" r="0.9" fill="#222"/><path d="M812.0,150.2 v3.1" stroke="#444" stroke-width="1"/><rect x="876.3" y="141.8" width="8.6" height="26.6" rx="4.3" ry="4.3" fill="#fdfdfd" stroke="#333" stroke-width="0.8"/><path d="M877.8,147.7 h5.6 M877.8,149.8 h4.6" stroke="#bbb" stroke-width="0.9"/><ellipse cx="881.3" cy="155.1" rx="1.9" ry="1.6" fill="none" stroke="#888" stroke-width="0.8"/><path d="M877.8,161.2 h3.4" stroke="#aaa" stroke-width="0.9"/><circle cx="882.3" cy="161.5" r="0.9" fill="#222"/><path d="M883.7,149.8 v3.2" stroke="#444" stroke-width="1"/><text x="844.8" y="119" text-anchor="middle" font-family="Liberation Sans, sans-serif" font-size="15.5" fill="#231f20" stroke="#231f20" stroke-width="0.3">4</text><text x="844.8" y="134.2" text-anchor="middle" font-family="Liberation Sans, sans-serif" font-size="14.5" fill="#231f20" stroke="#231f20" stroke-width="0.35" textLength="31.7" lengthAdjust="spacingAndGlyphs">pairs</text>
<g class="t">
<text x="20.7" y="244.1" textLength="267.9" lengthAdjust="spacing">Обезжирьте поверхность спиртом</text>
<text x="20.7" y="265.5" textLength="283.4" lengthAdjust="spacing">или спиртосодержащим раствором.</text>
<text x="20.7" y="286.9" textLength="265.7" lengthAdjust="spacing">Не используйте растворители или</text>
<text x="20.7" y="308.3" textLength="227.4" lengthAdjust="spacing">бытовые чистящие средства.</text>
<text x="361.5" y="244.1" textLength="253.4" lengthAdjust="spacing">Отделите полоски друг от друга.</text>
<text x="361.5" y="265.5" textLength="266.9" lengthAdjust="spacing">Соедините 2 застежки до щелчка.</text>
<text x="719.6" y="244.1" textLength="246.6" lengthAdjust="spacing">Удалите один защитный слой и</text>
<text x="719.6" y="265.5" textLength="238.7" lengthAdjust="spacing">прикрепите застежки к рамке.</text>
<text x="719.6" y="286.9" textLength="232.6" lengthAdjust="spacing">Расположите застежки как на</text>
<text x="719.6" y="308.3" textLength="256.9" lengthAdjust="spacing">картинке (в зависимости от веса</text>
<text x="719.6" y="329.7" textLength="76.3" lengthAdjust="spacing">картины).</text>
<text x="20.4" y="558.4" textLength="242.0" lengthAdjust="spacing">Удалите оставшийся защитный</text>
<text x="20.4" y="580.0" textLength="266.0" lengthAdjust="spacing">слой и прикрепите рамку к стене.</text>
<text x="20.4" y="601.6" textLength="228.5" lengthAdjust="spacing">Прижмите каждый комплект</text>
<text x="20.4" y="623.2" textLength="241.1" lengthAdjust="spacing">застежек на 30 секунд к стене.</text>
<text x="360.6" y="558.4" textLength="188.9" lengthAdjust="spacing">Для лучшего крепления</text>
<text x="360.6" y="580.0" textLength="190.7" lengthAdjust="spacing">снимите рамку. Еще раз</text>
<text x="360.6" y="601.6" textLength="207.8" lengthAdjust="spacing">сильно прижмите каждую</text>
<text x="360.6" y="623.2" textLength="135.8" lengthAdjust="spacing">застежку к стене.</text>
<text x="720.2" y="558.4" textLength="218.5" lengthAdjust="spacing">Подождите 1 час перед тем,</text>
<text x="720.2" y="580.0" textLength="225.5" lengthAdjust="spacing">как повесить рамку снова на</text>
<text x="720.2" y="601.6" textLength="202.3" lengthAdjust="spacing">стену. Соедините каждый</text>
<text x="720.2" y="623.2" textLength="232.5" lengthAdjust="spacing">комплект застежек до щелчка.</text>
<text x="20.4" y="915.1" textLength="214.1" lengthAdjust="spacing">Снимите рамку со стены за</text>
<text x="20.4" y="936.7" textLength="107.0" lengthAdjust="spacing">нижний край.</text>
<text x="361.8" y="915.1" textLength="216.5" lengthAdjust="spacing">Помните, не следует тянуть</text>
<text x="361.8" y="936.7" textLength="233.6" lengthAdjust="spacing">полоску на себя, необходимо</text>
<text x="361.8" y="958.3" textLength="188.6" lengthAdjust="spacing">вытянуть полоску вдоль</text>
<text x="361.8" y="979.9" textLength="101.6" lengthAdjust="spacing">поверхности.</text>
<text x="720.2" y="915.1" textLength="226.9" lengthAdjust="spacing">Медленно вытяните полоску</text>
<text x="720.2" y="936.7" textLength="234.7" lengthAdjust="spacing">вдоль поверхности примерно</text>
<text x="720.2" y="958.3" textLength="228.3" lengthAdjust="spacing">на 15-38 см до тех пор, пока</text>
<text x="720.2" y="979.9" textLength="236.7" lengthAdjust="spacing">застежка не отойдет от стены.</text>
</g>
</svg>
</body></html>
